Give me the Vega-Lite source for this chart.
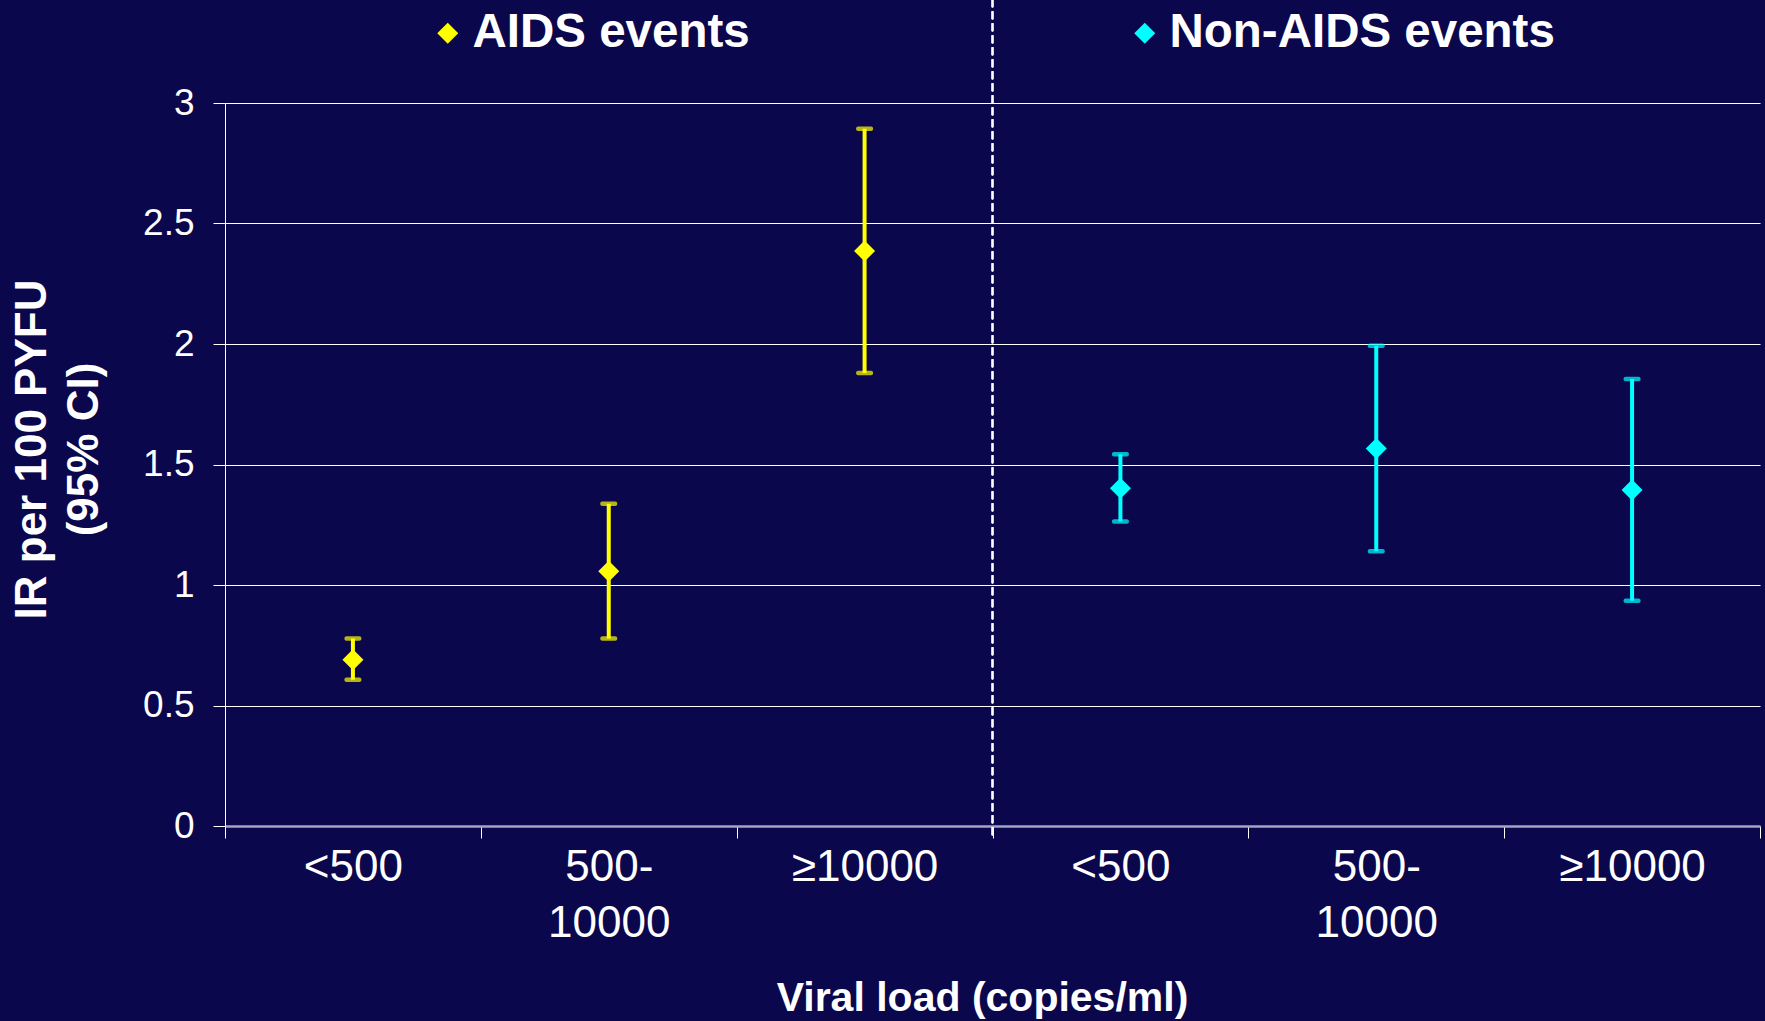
{
  "$schema": "https://vega.github.io/schema/vega-lite/v6.json",
  "width": 1535,
  "height": 723,
  "autosize": {"type": "none"},
  "padding": {"left": 225, "top": 103, "right": 5, "bottom": 195},
  "background": "#0B074D",
  "config": {
    "font": "Liberation Sans",
    "view": {"stroke": null},
    "axis": {"labelColor": "#FFFFFF", "titleColor": "#FFFFFF", "labelFont": "Liberation Sans", "titleFont": "Liberation Sans"}
  },
  "data": {
    "values": [
      {"key": "a1", "vl": "<500", "group": "AIDS events", "ir": 0.69, "lo": 0.607, "hi": 0.778},
      {"key": "a2", "vl": "500-10000", "group": "AIDS events", "ir": 1.057, "lo": 0.778, "hi": 1.337},
      {"key": "a3", "vl": "≥10000", "group": "AIDS events", "ir": 2.386, "lo": 1.88, "hi": 2.893},
      {"key": "n1", "vl": "<500", "group": "Non-AIDS events", "ir": 1.401, "lo": 1.263, "hi": 1.543},
      {"key": "n2", "vl": "500-10000", "group": "Non-AIDS events", "ir": 1.566, "lo": 1.14, "hi": 1.993},
      {"key": "n3", "vl": "≥10000", "group": "Non-AIDS events", "ir": 1.394, "lo": 0.935, "hi": 1.855}
    ]
  },
  "encoding": {
    "x": {
      "field": "key",
      "type": "nominal",
      "sort": null,
      "scale": {"domain": ["a1", "a2", "a3", "n1", "n2", "n3"], "paddingInner": 0, "paddingOuter": 0},
      "axis": {
        "title": "Viral load (copies/ml)",
        "titleFontSize": 41,
        "titleFontWeight": "bold",
        "titleX": 757,
        "titleY": 184,
        "titleBaseline": "alphabetic",
        "titleAlign": "center",
        "labelExpr": "indexof(['a1','a2','a3','n1','n2','n3'], datum.value) < 0 ? '' : substring(datum.value,1,2)=='1' ? '<500' : substring(datum.value,1,2)=='2' ? ['500-','10000'] : substring(datum.value,1,2)=='3' ? '≥10000' : ''",
        "labelAngle": 0,
        "labelFontSize": 44,
        "labelBaseline": "top",
        "labelPadding": 7,
        "labelLineHeight": 56,
        "tickBand": "extent",
        "tickSize": 12,
        "tickColor": "#FFFFFF",
        "tickWidth": 1,
        "domainColor": "#A6A4C4",
        "domainWidth": 2.5,
        "grid": false
      }
    },
    "color": {
      "field": "group",
      "type": "nominal",
      "scale": {"domain": ["AIDS events", "Non-AIDS events"], "range": ["#FFFF00", "#00FFFF"]},
      "legend": {
        "title": null,
        "orient": "none",
        "direction": "horizontal",
        "legendX": 199,
        "legendY": -94,
        "symbolType": "diamond",
        "symbolSize": 441,
        "symbolOpacity": 1,
        "symbolStrokeWidth": 0,
        "labelFontSize": 47.5,
        "labelFontWeight": "bold",
        "labelColor": "#FFFFFF",
        "labelFont": "Liberation Sans",
        "labelOffset": 1,
        "columnPadding": 371,
        "labelLimit": 600
      }
    }
  },
  "layer": [
    {
      "mark": {"type": "rule", "strokeDash": [8, 4], "strokeWidth": 1.5, "color": "#FFFFFF", "clip": false},
      "encoding": {
        "x": {"datum": "n1", "bandPosition": 0},
        "y": {"datum": 3.43},
        "y2": {"datum": -0.05},
        "color": {"value": "#FFFFFF"}
      }
    },
    {
      "mark": {"type": "rule", "strokeWidth": 4},
      "encoding": {
        "y": {
          "field": "lo",
          "type": "quantitative",
          "scale": {"domain": [0, 3], "nice": false},
          "axis": {
            "title": ["IR per 100 PYFU", "(95% CI)"],
            "titleFontSize": 44,
            "titleFontWeight": "bold",
            "titleLineHeight": 52,
            "titleAngle": -90,
            "titleX": -193,
            "titleY": 346,
            "titleAlign": "center",
            "titleBaseline": "middle",
            "values": [0, 0.5, 1, 1.5, 2, 2.5, 3],
            "labelExpr": "datum.value",
            "labelFontSize": 37,
            "labelPadding": 19,
            "tickSize": 12,
            "tickColor": "#FFFFFF",
            "domainColor": "#FFFFFF",
            "domainWidth": 1,
            "grid": true,
            "gridColor": "#FFFFFF",
            "gridWidth": 1.2
          }
        },
        "y2": {"field": "hi"}
      }
    },
    {
      "mark": {"type": "tick", "thickness": 4.5, "size": 17, "cornerRadius": 2},
      "encoding": {
        "y": {"field": "lo", "type": "quantitative"}
      }
    },
    {
      "mark": {"type": "tick", "thickness": 4.5, "size": 17, "cornerRadius": 2},
      "encoding": {
        "y": {"field": "hi", "type": "quantitative"}
      }
    },
    {
      "mark": {"type": "point", "shape": "diamond", "filled": true, "size": 441, "opacity": 1},
      "encoding": {
        "y": {"field": "ir", "type": "quantitative"}
      }
    }
  ]
}
